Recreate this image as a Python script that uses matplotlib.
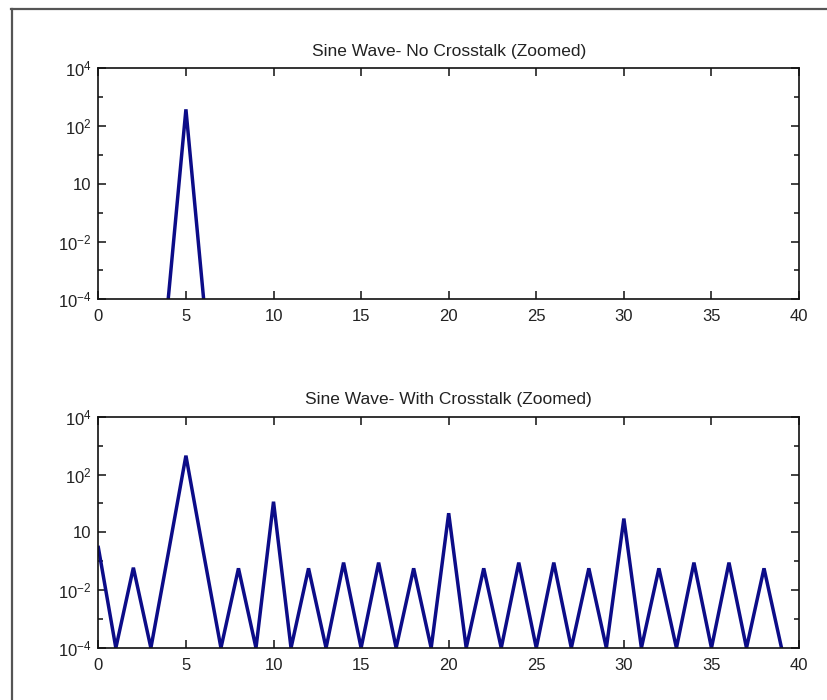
import numpy as np
import matplotlib
matplotlib.use('Agg')
import matplotlib.pyplot as plt
from matplotlib.lines import Line2D
from matplotlib.ticker import FixedLocator, FixedFormatter

plt.rcParams['font.family'] = ['Liberation Sans', 'DejaVu Sans']
plt.rcParams['mathtext.fontset'] = 'custom'
plt.rcParams['mathtext.rm'] = 'Liberation Sans'

# frequency bins
freq_clean = list(range(0, 41))
freq_xtalk = list(range(0, 40))

# spectrum without crosstalk: single tone at bin 5
mag_clean = [1e-10] * 41
mag_clean[4] = 1.2e-4
mag_clean[5] = 380.0
mag_clean[6] = 1.2e-4

# spectrum with crosstalk
mag_xtalk = [0.3, 1e-4, 0.06, 1e-4, 0.2, 450.0, 0.2, 1e-4, 0.057, 1e-4,
             11.5, 1e-4, 0.057, 1e-4, 0.09, 1e-4, 0.09, 1e-4, 0.057, 1e-4,
             4.6, 1e-4, 0.057, 1e-4, 0.09, 1e-4, 0.09, 1e-4, 0.057, 1e-4,
             3.0, 1e-4, 0.057, 1e-4, 0.09, 1e-4, 0.09, 1e-4, 0.057, 1e-4]

titles = ['Sine Wave- No Crosstalk (Zoomed)', 'Sine Wave- With Crosstalk (Zoomed)']
ytick_vals = [1e-4, 1e-2, 1, 1e2, 1e4]
ytick_labels = [r'$\mathregular{10^{-4}}$', r'$\mathregular{10^{-2}}$', '10',
                r'$\mathregular{10^{2}}$', r'$\mathregular{10^{4}}$']
yminor_vals = [1e-3, 1e-1, 1e1, 1e3]
xtick_vals = list(range(0, 41, 5))

fig = plt.figure(figsize=(8.27, 7.0), dpi=100)
ax1 = fig.add_axes([0.1189, 0.5724, 0.8473, 0.33])
ax2 = fig.add_axes([0.1189, 0.0743, 0.8473, 0.3304])

series = [(freq_clean, mag_clean), (freq_xtalk, mag_xtalk)]
for ax, (fx, fy), title in zip([ax1, ax2], series, titles):
    ax.plot(fx, fy, color='#0c0c88', lw=2.5, solid_joinstyle='miter')
    ax.set_yscale('log')
    ax.set_ylim(1e-4, 1e4)
    ax.set_xlim(0, 40)
    ax.yaxis.set_major_locator(FixedLocator(ytick_vals))
    ax.yaxis.set_major_formatter(FixedFormatter(ytick_labels))
    ax.yaxis.set_minor_locator(FixedLocator(yminor_vals))
    ax.yaxis.set_minor_formatter(FixedFormatter([''] * 4))
    ax.set_xticks(xtick_vals)
    ax.tick_params(which='both', direction='in', top=True, right=True,
                   labelsize=12, color='#222222', labelcolor='#222222')
    ax.tick_params(which='major', length=6, width=1.2)
    ax.tick_params(which='minor', length=3.5, width=1.2)
    ax.tick_params(axis='x', which='major', pad=7)
    ax.tick_params(axis='y', which='major', pad=5)
    for sp in ax.spines.values():
        sp.set_linewidth(1.2)
        sp.set_color('#111111')
    ax.set_title(title, fontsize=12.5, pad=9, color='#222222')

# outer frame (right and bottom edges fall outside the picture)
fig.add_artist(Line2D([0.0145, 0.0145], [0.0, 0.9865], transform=fig.transFigure,
                      color='#555555', lw=1.6))
fig.add_artist(Line2D([0.0135, 1.0], [0.9865, 0.9865], transform=fig.transFigure,
                      color='#555555', lw=1.6))

fig.savefig('out.png', dpi=100)
